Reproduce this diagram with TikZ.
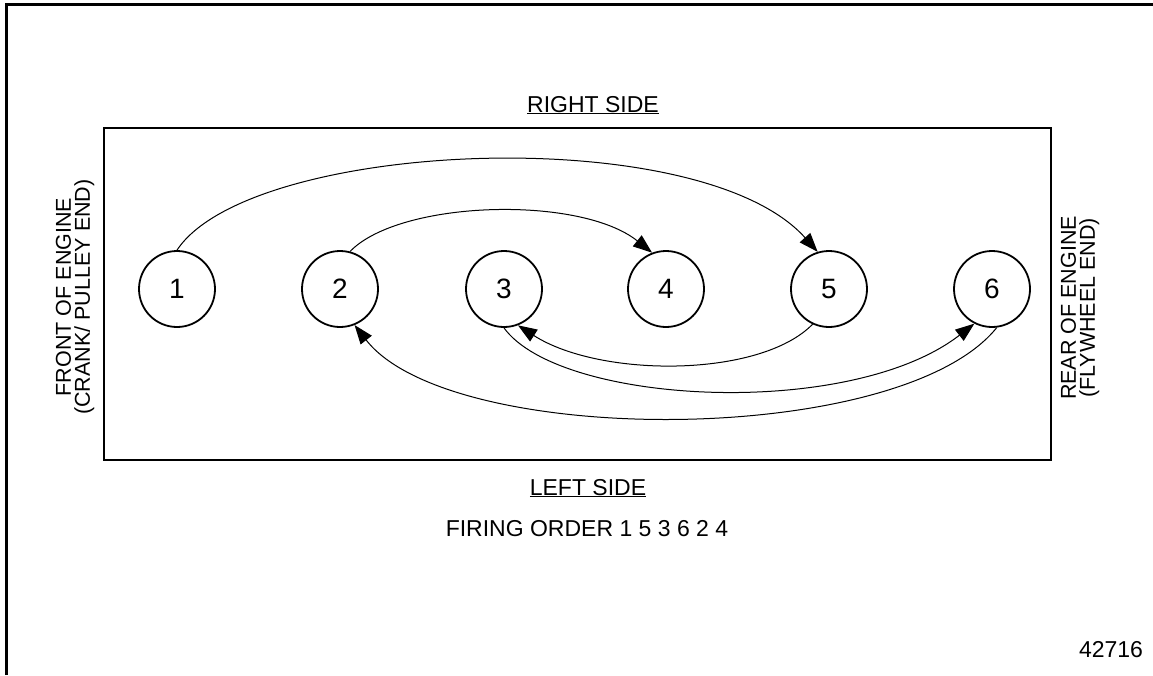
\documentclass[tikz,border=0pt]{standalone}
\usepackage{fontspec}
\setmainfont{Liberation Sans}
\usetikzlibrary{arrows.meta}
\begin{document}
\begin{tikzpicture}[x=1pt,y=-1pt,
  cyl/.style={draw,circle,line width=1.8pt,minimum size=76pt,inner sep=0pt,font=\fontsize{28}{30}\selectfont},
  flow/.style={line width=1pt,-{Triangle[length=19pt,width=14pt]}},
  lbl/.style={font=\fontsize{23}{20}\selectfont,align=center,inner sep=0pt},
  sidelbl/.style={font=\fontsize{21.5}{19}\selectfont,align=center,inner sep=0pt,rotate=90}]
\useasboundingbox (0,0) rectangle (1153,675);
% sheet frame
\draw[line width=3pt] (6,675) -- (6,4) -- (1153,4);
% engine block outline
\draw[line width=2.6pt] (104,128) rectangle (1051,460);
% cylinders
\node[cyl] (c1) at (177,289) {1};
\node[cyl] (c2) at (340,289) {2};
\node[cyl] (c3) at (504,289) {3};
\node[cyl] (c4) at (666,289) {4};
\node[cyl] (c5) at (829,289) {5};
\node[cyl] (c6) at (992,289) {6};
% firing sequence
\draw[flow] (c1.90) .. controls (250,140) and (700,120) .. (c5.107);
\draw[flow] (c5.245) .. controls (760,378) and (600,378) .. (c3.291);
\draw[flow] (c3.270) .. controls (560,405) and (850,420) .. (c6.243);
\draw[flow] (c6.277) .. controls (900,448) and (450,448) .. (c2.292);
\draw[flow] (c2.75) .. controls (400,200) and (580,195) .. (c4.111);
% labels
\node[lbl,anchor=base] (rs) at (593,112) {\underline{RIGHT SIDE}};
\node[lbl,anchor=base] (ls) at (588,495) {\underline{LEFT SIDE}};
\node[lbl,anchor=base] (fo) at (587,536) {FIRING ORDER 1 5 3 6 2 4};
\node[sidelbl] (fr) at (75,297) {FRONT OF ENGINE\\(CRANK/ PULLEY END)};
\node[sidelbl] (rr) at (1080,308) {REAR OF ENGINE\\(FLYWHEEL END)};
\node[lbl,anchor=base] (id) at (1111,657) {42716};
\end{tikzpicture}
\end{document}
